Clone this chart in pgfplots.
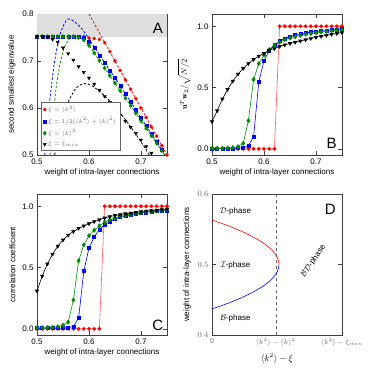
\documentclass[border=0pt]{standalone}
\usepackage{fontspec}
\setsansfont{Liberation Sans}
\usepackage{pgfplots}
\usepackage{pgfplotstable}
\pgfplotsset{compat=1.18}

\definecolor{dgreen}{rgb}{0,0.55,0}

% eigenvalue panel, markers
\pgfplotstableread{
x r b g k
0.50 0.752 0.752 0.752 0.752
0.51 0.752 0.752 0.752 0.752
0.52 0.752 0.752 0.752 0.751
0.53 0.752 0.752 0.752 0.746
0.54 0.752 0.752 0.752 0.740
0.55 0.752 0.752 0.752 0.728
0.56 0.752 0.752 0.752 0.716
0.57 0.752 0.752 0.752 0.702
0.58 0.752 0.752 0.750 0.688
0.59 0.752 0.750 0.745 0.676
0.60 0.749 0.742 0.733 0.664
0.61 0.748 0.728 0.717 0.651
0.62 0.746 0.712 0.701 0.638
0.63 0.739 0.696 0.685 0.625
0.64 0.720 0.680 0.669 0.612
0.65 0.700 0.664 0.653 0.599
0.66 0.680 0.647 0.637 0.585
0.67 0.660 0.630 0.621 0.572
0.68 0.640 0.613 0.605 0.559
0.69 0.620 0.596 0.589 0.546
0.70 0.600 0.579 0.573 0.532
0.71 0.580 0.562 0.557 0.518
0.72 0.560 0.545 0.541 0.504
0.73 0.540 0.528 0.525 0.490
0.74 0.520 0.511 0.509 0.476
0.75 0.500 0.494 0.493 0.462
}\tabA

\pgfplotstableread{
x r b g k
0.50 0 0.003 0.005 0.222
0.51 0 0.003 0.005 0.311
0.52 0 0.003 0.006 0.407
0.53 0 0.003 0.007 0.485
0.54 0 0.004 0.010 0.553
0.55 0 0.006 0.018 0.610
0.56 0 0.010 0.045 0.656
0.57 0 0.025 0.230 0.696
0.58 0 0.100 0.565 0.729
0.59 0 0.545 0.695 0.756
0.60 0 0.720 0.765 0.778
0.61 0 0.800 0.810 0.805
0.62 0 0.845 0.845 0.818
0.63 1 0.880 0.870 0.835
0.64 1 0.900 0.890 0.848
0.65 1 0.915 0.905 0.860
0.66 1 0.928 0.915 0.870
0.67 1 0.937 0.925 0.880
0.68 1 0.945 0.935 0.890
0.69 1 0.952 0.940 0.900
0.70 1 0.958 0.948 0.910
0.71 1 0.962 0.953 0.918
0.72 1 0.966 0.958 0.926
0.73 1 0.970 0.962 0.934
0.74 1 0.973 0.966 0.941
0.75 1 0.976 0.970 0.948
}\tabB

\pgfplotstableread{
x r b g k
0.50 0 0.005 0.010 0.309
0.51 0 0.005 0.010 0.430
0.52 0 0.005 0.010 0.530
0.53 0 0.005 0.012 0.610
0.54 0 0.005 0.018 0.675
0.55 0 0.006 0.030 0.725
0.56 0 0.008 0.055 0.765
0.57 0 0.020 0.235 0.795
0.58 0 0.087 0.555 0.820
0.59 0 0.470 0.685 0.840
0.60 0 0.660 0.760 0.858
0.61 0 0.750 0.805 0.875
0.62 0 0.810 0.840 0.890
0.63 1 0.850 0.870 0.905
0.64 1 0.875 0.890 0.915
0.65 1 0.895 0.905 0.925
0.66 1 0.910 0.917 0.932
0.67 1 0.920 0.927 0.939
0.68 1 0.930 0.935 0.945
0.69 1 0.937 0.942 0.951
0.70 1 0.944 0.948 0.956
0.71 1 0.950 0.953 0.961
0.72 1 0.955 0.958 0.965
0.73 1 0.959 0.962 0.969
0.74 1 0.963 0.966 0.973
0.75 1 0.966 0.970 0.976
}\tabC

\tikzset{
  lbl/.style={font=\sffamily\fontsize{8}{9}\selectfont},
  big/.style={font=\sffamily\fontsize{15}{15}\selectfont},
  dsh/.style={dash pattern=on 2.4pt off 1.8pt, line width=0.8pt}
}
\pgfplotsset{
  panel/.style={scale only axis, width=130pt, height=141pt, anchor=south west,
    xmin=0.5, xmax=0.75, xtick={0.5,0.6,0.7},
    axis line style={black!75}, tick style={black!75},
    tick label style={font=\sffamily\fontsize{8}{9}\selectfont},
    /pgf/number format/assume math mode=true,
    xticklabel style={/pgf/number format/.cd, fixed, precision=1, fixed zerofill},
    yticklabel style={/pgf/number format/.cd, fixed, precision=1, fixed zerofill},
    label style={font=\sffamily\fontsize{8}{9}\selectfont},
    xlabel={weight of intra-layer connections},
    xlabel style={yshift=2pt}},
  mr/.style={red, mark=*, mark size=1.6pt},
  mb/.style={blue, mark=square*, mark size=1.5pt},
  mg/.style={dgreen, mark=diamond*, mark size=2.1pt},
  mk/.style={black, mark=triangle*, mark size=1.9pt, mark options={rotate=180}},
  ln/.style={line width=0.6pt}
}

\begin{document}
\begin{tikzpicture}
\useasboundingbox (0,0) rectangle (374pt,374pt);

% ---------- A ----------
\begin{axis}[panel, at={(37pt,219pt)}, ymin=0.5, ymax=0.8, ytick={0.5,0.6,0.7,0.8},
  ylabel={second smallest eigenvalue},
  legend style={at={(0.03,0.03)}, anchor=south west, font=\fontsize{6.3}{7}\selectfont,
    text=black!60, draw=black!60, inner xsep=2pt, inner ysep=1.5pt, row sep=0.6pt,
    /tikz/every even column/.append style={column sep=4pt}},
  legend cell align=left]
\addplot[fill=black!13, draw=none, forget plot] coordinates {(0.5,0.75) (0.75,0.75) (0.75,0.8) (0.5,0.8)} -- cycle;
\addplot[red, dsh, forget plot] coordinates {(0.6,0.8) (0.75,0.5)};
\addplot[blue, dsh, smooth, forget plot] coordinates {
(0.515,0.50) (0.521,0.58) (0.527,0.64) (0.534,0.70) (0.543,0.752) (0.553,0.780)
(0.559,0.789) (0.566,0.788) (0.572,0.784) (0.585,0.770) (0.597,0.752) (0.61,0.730)
(0.62,0.713) (0.65,0.664) (0.70,0.579) (0.75,0.494)};
\addplot[dgreen, dsh, smooth, forget plot] coordinates {
(0.525,0.50) (0.531,0.574) (0.537,0.645) (0.546,0.702) (0.555,0.735) (0.565,0.750)
(0.575,0.752) (0.585,0.748) (0.60,0.733) (0.62,0.701) (0.65,0.653) (0.70,0.573) (0.75,0.493)};
\addplot[black, dsh, smooth, forget plot] coordinates {
(0.534,0.50) (0.547,0.564) (0.559,0.610) (0.575,0.642) (0.591,0.652) (0.606,0.647)
(0.625,0.631) (0.644,0.610) (0.663,0.585) (0.682,0.557) (0.70,0.528) (0.716,0.50)};
\addplot[mr, only marks] table[x=x, y=r] {\tabA};
\addplot[mb, only marks] table[x=x, y=b] {\tabA};
\addplot[mg, only marks] table[x=x, y=g] {\tabA};
\addplot[mk, only marks] table[x=x, y=k] {\tabA};
\legend{$\xi=\langle k^2\rangle$, $\xi=1/2(\langle k^2\rangle+\langle k\rangle^2)$, $\xi=\langle k\rangle^2$, $\xi=\xi_{min}$}
\node[big] at (rel axis cs:0.93,0.9) {A};
\end{axis}

% ---------- B ----------
\begin{axis}[panel, at={(212pt,219pt)}, ymin=-0.05, ymax=1.1, ytick={0,0.5,1},
  ylabel={$\mathbf{u}^T\mathbf{w}_2/\sqrt{N/2}$}]
\addplot[mr, ln, mark options={draw=red, fill=red}, color=red!65] table[x=x, y=r] {\tabB};
\addplot[mb, ln] table[x=x, y=b] {\tabB};
\addplot[mg, ln] table[x=x, y=g] {\tabB};
\addplot[mk, ln] table[x=x, y=k] {\tabB};
\node[big] at (rel axis cs:0.92,0.08) {B};
\end{axis}

% ---------- C ----------
\begin{axis}[panel, at={(37pt,39pt)}, ymin=-0.05, ymax=1.1, ytick={0,0.5,1},
  ylabel={correlation coefficient}]
\addplot[mr, ln, mark options={draw=red, fill=red}, color=red!65] table[x=x, y=r] {\tabC};
\addplot[mb, ln] table[x=x, y=b] {\tabC};
\addplot[mg, ln] table[x=x, y=g] {\tabC};
\addplot[mk, ln] table[x=x, y=k] {\tabC};
\node[big] at (rel axis cs:0.93,0.07) {C};
\end{axis}

% ---------- D ----------
\begin{axis}[scale only axis, width=130pt, height=141pt, anchor=south west, at={(212pt,39pt)},
  xmin=0, xmax=1, ymin=0.4, ymax=0.6,
  axis line style={black!75}, tick style={black!75},
  xtick={0,0.49,1}, xticklabels={\sffamily 0, $\langle k^2\rangle-\langle k\rangle^2$, $\langle k^2\rangle-\xi_{min}$},
  xticklabel style={font=\fontsize{7}{8}\selectfont, text=black!60},
  ytick={0.4,0.5,0.6}, yticklabel style={font=\fontsize{8}{9}\selectfont, text=black!60,
    /pgf/number format/.cd, fixed, precision=1, fixed zerofill},
  major x tick style={draw=none},
  ylabel={weight of intra-layer connections}, ylabel style={font=\sffamily\fontsize{8}{9}\selectfont},
  xlabel={$\langle k^2\rangle-\xi$}, xlabel style={font=\fontsize{9}{10}\selectfont}]
\addplot[black!60, dashed, thin] coordinates {(0.49,0.4) (0.49,0.6)};
\addplot[red, semithick, smooth] coordinates {
(0,0.563) (0.048,0.560) (0.123,0.555) (0.191,0.550) (0.252,0.545) (0.307,0.540)
(0.356,0.535) (0.398,0.530) (0.434,0.525) (0.463,0.520) (0.486,0.515) (0.502,0.510)
(0.512,0.505) (0.515,0.500)};
\addplot[blue, semithick, smooth] coordinates {
(0.515,0.500) (0.512,0.495) (0.502,0.490) (0.486,0.485) (0.463,0.480) (0.434,0.475)
(0.398,0.470) (0.356,0.465) (0.307,0.460) (0.252,0.455) (0.191,0.450) (0.123,0.445)
(0.048,0.440) (0,0.437)};
\node[lbl] at (axis cs:0.18,0.575) {$\mathcal{D}$-phase};
\node[lbl] at (axis cs:0.18,0.499) {$\mathcal{I}$-phase};
\node[lbl] at (axis cs:0.18,0.423) {$\mathcal{B}$-phase};
\node[lbl, rotate=55] at (axis cs:0.78,0.505) {$\mathcal{BD}$-phase};
\node[big] at (rel axis cs:0.91,0.89) {D};
\end{axis}
\end{tikzpicture}
\end{document}
